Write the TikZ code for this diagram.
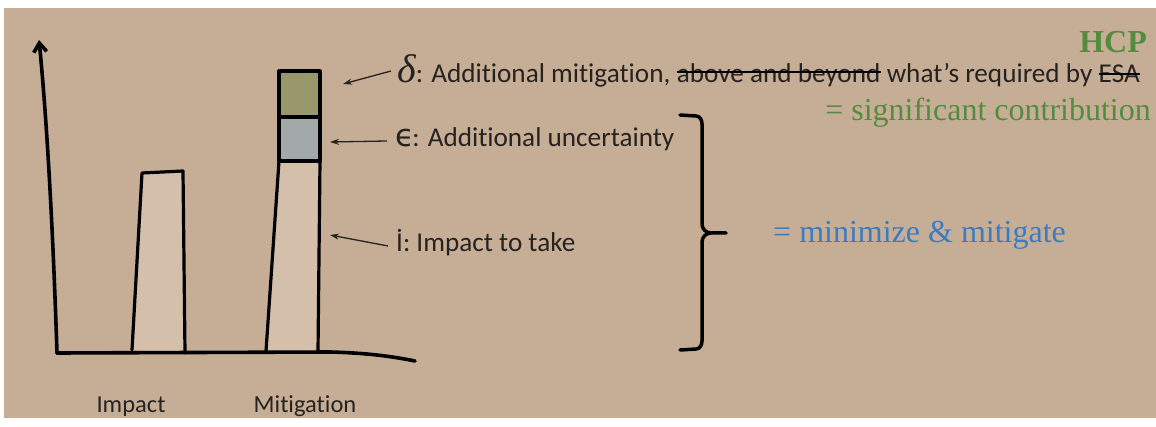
\documentclass[tikz,border=0pt]{standalone}
\usepackage{fontspec}
\setmainfont{Liberation Serif}
\newfontfamily\cfont[Ligatures=NoCommon]{Carlito}
\newfontfamily\dfont{DejaVu Sans}
\usetikzlibrary{arrows.meta}
\definecolor{bg}{RGB}{198,174,150}
\definecolor{barfill}{RGB}{212,191,170}
\definecolor{olivebox}{RGB}{152,152,108}
\definecolor{greyblue}{RGB}{163,168,168}
\definecolor{hcpgreen}{RGB}{84,140,62}
\definecolor{mmblue}{RGB}{58,124,196}
\definecolor{ink}{RGB}{38,34,32}
\begin{document}
\begin{tikzpicture}[x=1pt,y=-1pt,
  lbl/.style={font=\cfont\fontsize{27.2}{30}\selectfont, text=ink, inner sep=0pt, anchor=base west},
  axlbl/.style={font=\cfont\fontsize{24.5}{26}\selectfont, text=ink, inner sep=0pt, anchor=base},
  serif/.style={font=\fontsize{32}{34}\selectfont, inner sep=0pt, anchor=base west},
  axis/.style={line width=3.6pt, black, line cap=round, line join=round},
  barline/.style={line width=3.2pt, black, line cap=round, line join=round},
  pointer/.style={line width=1.3pt, ink, -{Stealth[length=9pt,width=6pt]}},
  strike/.style={line width=2.2pt, black},
  bracestyle/.style={line width=3.5pt, black, line cap=round, line join=round}]
\useasboundingbox (0,0) rectangle (1156,427);
\fill[white] (0,0) rectangle (1156,427);
\fill[bg] (4,8) rectangle (1156,418);

% bars
\fill[barfill] (132,350) -- (142,173) -- (183,171) -- (185,353) -- cycle;
\draw[barline] (132,350) -- (142,173) -- (183,171) -- (185,353);
\fill[barfill] (266,351) -- (279,161) -- (319,161) -- (318,351) -- cycle;
\fill[olivebox] (279,71) rectangle (320,117);
\fill[greyblue] (279,117) rectangle (320,161);
\draw[barline] (279,71) rectangle (320,117);
\draw[barline] (279,117) rectangle (320,161);
\draw[barline] (266,351) -- (279,161);
\draw[barline] (320,161) -- (318,352);

% axes
\coordinate (origin) at (57,353);
\coordinate (ytip) at (39,40);
\coordinate (xend) at (415,361);
\draw[axis, -{Straight Barb[length=9pt,width=13pt]}] (origin) .. controls (52,200) and (45,100) .. (ytip);
\draw[axis] (origin) -- (330,352) .. controls (370,353) and (395,357) .. (xend);

% axis labels
\node[axlbl] (limpact) at (131,412) {Impact};
\node[axlbl] (lmitig) at (305,412) {Mitigation};

% text lines
\node[lbl] (d1) at (397,83) {{\rmfamily\itshape\fontsize{40}{40}\selectfont δ}: Additional mitigation,};
\node[lbl] (d2) at ([xshift=6pt]d1.base east) {above and beyond};
\node[lbl] (d3) at ([xshift=6pt]d2.base east) {what’s required by};
\node[lbl] (d4) at ([xshift=6pt]d3.base east) {ESA};
\draw[strike] ([yshift=11pt]d2.base west) -- ([yshift=11pt]d2.base east);
\draw[strike] ([yshift=9pt]d4.base west) -- ([yshift=9pt]d4.base east);

\node[lbl] (e1) at (395,147) {{\dfont\fontsize{31}{31}\selectfont ϵ}\kern-2pt: Additional uncertainty};
\node[lbl] (i1) at (396,252) {İ: Impact to take};

% pointers
\coordinate (pd) at (343,84);
\coordinate (pe) at (330,142);
\coordinate (pi) at (330,235);
\draw[pointer] ([xshift=-6pt,yshift=12pt]d1.base west) -- (pd);
\draw[pointer] ([xshift=-8pt,yshift=6pt]e1.base west) -- (pe);
\draw[pointer] ([xshift=-8pt,yshift=6pt]i1.base west) -- (pi);

% brace
\coordinate (btop) at (680,115);
\coordinate (btip) at (726,233);
\coordinate (bbot) at (680,350);
\draw[bracestyle] (btop) -- (696,116) to[out=0,in=90] (702,124) -- (702,224) to[out=-90,in=180] (711,233) -- (btip);
\draw[bracestyle] (711,233) to[out=180,in=90] (702,242) -- (702,341) to[out=-90,in=0] (696,349) -- (bbot);

% right texts
\node[font=\bfseries\fontsize{32}{34}\selectfont, text=hcpgreen, inner sep=0pt, anchor=base east] (hcp) at (1147,53) {HCP};
\node[serif, text=hcpgreen, anchor=base east] (sig) at (1151,121) {= significant contribution};
\node[serif, text=mmblue] (mm) at (773,243) {= minimize \& mitigate};
\end{tikzpicture}
\end{document}
